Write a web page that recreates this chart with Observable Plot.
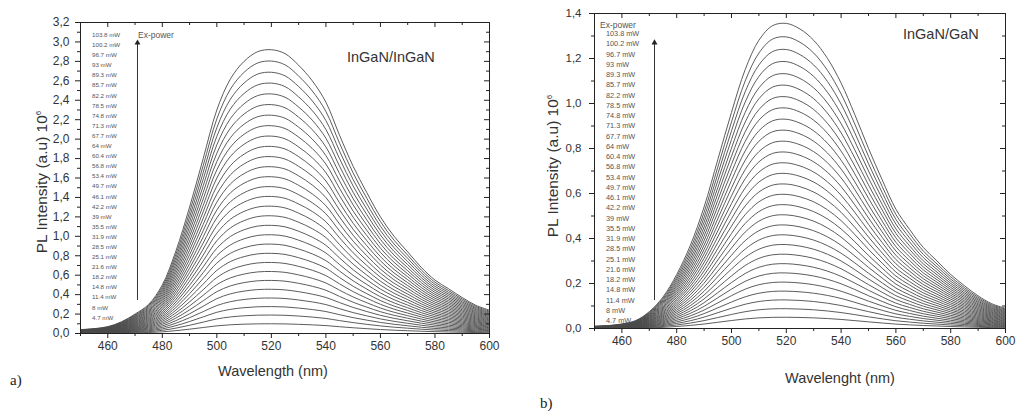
<!DOCTYPE html>
<html><head><meta charset="utf-8">
<script src="https://cdn.jsdelivr.net/npm/d3@7"></script>
<script src="https://cdn.jsdelivr.net/npm/@observablehq/plot@0.6"></script>
<style>
body{margin:0;background:#fff;}
#wrap{position:relative;width:1020px;height:412px;overflow:hidden;font-family:"Liberation Sans",Arial,sans-serif;color:#333;}
.p{position:absolute;top:0;}
.leg{position:absolute;color:#555;white-space:pre;}
.t{position:absolute;white-space:nowrap;}
.yl{position:absolute;white-space:nowrap;transform:translate(-50%,-50%) rotate(-90deg);font-size:15.5px;}
.xl{position:absolute;white-space:nowrap;transform:translate(-50%,-50%);font-size:14.5px;}
.tag{position:absolute;font-family:"Liberation Serif","Times New Roman",serif;font-size:15px;color:#222;}
</style></head><body><div id="wrap"></div>
<script>
// Excitation power labels (top = highest power)
const powerLabels = ["103.8 mW","100.2 mW","96.7 mW","93 mW","89.3 mW","85.7 mW","82.2 mW","78.5 mW","74.8 mW","71.3 mW","67.7 mW","64 mW","60.4 mW","56.8 mW","53.4 mW","49.7 mW","46.1 mW","42.2 mW","39 mW","35.5 mW","31.9 mW","28.5 mW","25.1 mW","21.6 mW","18.2 mW","14.8 mW","11.4 mW","8 mW","4.7 mW"];

// Wavelength samples (nm)
const wavelengths = [450,455,460,465,470,475,480,485,490,495,500,505,510,515,520,525,530,535,540,545,550,555,560,565,570,575,580,585,590,595,600];

// Panel a) InGaN/InGaN : highest-power spectrum (x10^6)
const profileA = [0.04,0.05,0.07,0.12,0.2,0.3,0.5,0.85,1.3,1.8,2.3,2.62,2.8,2.9,2.92,2.88,2.76,2.6,2.38,2.04,1.72,1.45,1.2,1.0,0.84,0.68,0.55,0.46,0.37,0.29,0.24];
// peak intensity of each spectrum (same order as powerLabels)
const peaksA = [2.92,2.803,2.688,2.576,2.465,2.355,2.246,2.138,2.031,1.925,1.82,1.716,1.613,1.511,1.41,1.31,1.211,1.113,1.016,0.92,0.825,0.731,0.638,0.546,0.455,0.365,0.277,0.19,0.10];

// Panel b) InGaN/GaN
const profileB = [0.01,0.013,0.02,0.035,0.075,0.14,0.24,0.37,0.54,0.75,0.96,1.15,1.28,1.345,1.355,1.33,1.28,1.2,1.09,0.95,0.8,0.66,0.53,0.44,0.36,0.3,0.24,0.19,0.145,0.11,0.09];
const peaksB = [1.356,1.296,1.240,1.186,1.132,1.081,1.030,0.980,0.930,0.881,0.832,0.784,0.736,0.689,0.642,0.596,0.550,0.505,0.460,0.416,0.373,0.330,0.288,0.247,0.206,0.166,0.127,0.088,0.05];

// ticks
const xMajor = [460,480,500,520,540,560,580,600];
const xMinor = [450,470,490,510,530,550,570,590];
const yMajorA = [0,0.2,0.4,0.6,0.8,1.0,1.2,1.4,1.6,1.8,2.0,2.2,2.4,2.6,2.8,3.0,3.2];
const yMinorA = [0.1,0.3,0.5,0.7,0.9,1.1,1.3,1.5,1.7,1.9,2.1,2.3,2.5,2.7,2.9,3.1];
const yMajorB = [0,0.2,0.4,0.6,0.8,1.0,1.2,1.4];
const yMinorB = [0.1,0.3,0.5,0.7,0.9,1.1,1.3];

// "Ex-power" arrow annotations (data space)
const arrowA = {x: 470.9, y1: 0.34, y2: 2.99};
const arrowB = {x: 471.9, y1: 0.124, y2: 1.27};

function buildRows(profile, peaks) {
  const pmax = d3.max(profile);
  const rows = [];
  peaks.forEach((pk, i) => {
    wavelengths.forEach((w, j) => rows.push({p: powerLabels[i], w, v: profile[j] * pk / pmax}));
  });
  return rows;
}

const fmt = d => d.toFixed(1).replace(".", ",");

function panel(o) {
  const ph = o.height - o.mt - o.mb;
  const pw = o.width - o.ml - o.mr;
  const tick = "#222";
  return Plot.plot({
    width: o.width, height: o.height,
    marginTop: o.mt, marginRight: o.mr, marginBottom: o.mb, marginLeft: o.ml,
    style: {fontFamily: "Liberation Sans, Arial, sans-serif", color: "#333", background: "transparent", overflow: "visible"},
    x: {domain: [450, 600]},
    y: {domain: [0, o.yMax]},
    marks: [
      Plot.line(o.rows, {x: "w", y: "v", z: "p", stroke: "#4a4a4a", strokeWidth: 0.9, curve: "catmull-rom"}),
      Plot.ruleX([o.arrow], {x: "x", y1: "y1", y2: "y2", stroke: "#333", strokeWidth: 1}),
      Plot.dot([o.arrow], {x: "x", y: "y2", symbol: "triangle", r: 2.2, fill: "#222", stroke: null}),
      // inward ticks on top and right edges
      Plot.ruleX(xMajor, {stroke: tick, insetBottom: ph - 5}),
      Plot.ruleX(xMinor, {stroke: tick, insetBottom: ph - 3}),
      Plot.ruleY(o.yMajor, {stroke: tick, insetLeft: pw - 5}),
      Plot.ruleY(o.yMinor, {stroke: tick, insetLeft: pw - 3}),
      Plot.frame({stroke: "#222", strokeWidth: 1}),
      Plot.axisX({ticks: xMajor, tickSize: 5, tickPadding: 3, tickFormat: d => String(d), label: null, fontSize: 12, stroke: tick}),
      Plot.axisX({ticks: xMinor, tickSize: 3, text: null, label: null, stroke: tick}),
      Plot.axisY({ticks: o.yMajor, tickSize: 5, tickPadding: o.yPad, tickFormat: fmt, label: null, fontSize: o.yFont, stroke: tick}),
      Plot.axisY({ticks: o.yMinor, tickSize: 3, text: null, label: null, stroke: tick})
    ]
  });
}

const wrap = document.getElementById("wrap");

const a = panel({width: 510, height: 390, mt: 22, mr: 21, mb: 57, ml: 80, yMax: 3.2,
  yMajor: yMajorA, yMinor: yMinorA, yPad: 6, yFont: 12, arrow: arrowA, rows: buildRows(profileA, peaksA)});
a.classList.add("p"); a.style.left = "0px";
wrap.appendChild(a);

const b = panel({width: 510, height: 390, mt: 13, mr: 15, mb: 62, ml: 84, yMax: 1.4,
  yMajor: yMajorB, yMinor: yMinorB, yPad: 8, yFont: 11.5, arrow: arrowB, rows: buildRows(profileB, peaksB)});
b.classList.add("p"); b.style.left = "510px";
wrap.appendChild(b);

function addDiv(cls, html, css) {
  const d = document.createElement("div");
  d.className = cls; d.innerHTML = html;
  Object.assign(d.style, css);
  wrap.appendChild(d);
  return d;
}

// legends
addDiv("leg", powerLabels.join("\n"), {left: "92px", top: "30px", fontSize: "6.2px", lineHeight: "10.1px"});
addDiv("leg", powerLabels.join("\n"), {left: "606px", top: "29px", fontSize: "7.3px", lineHeight: "10.25px"});
addDiv("t", "Ex-power", {left: "138px", top: "30px", fontSize: "8.5px", color: "#555"});
addDiv("t", "Ex-power", {left: "600px", top: "20px", fontSize: "8.5px", color: "#555"});

// sample titles
addDiv("t", "InGaN/InGaN", {left: "347px", top: "49px", fontSize: "14.5px"});
addDiv("t", "InGaN/GaN", {left: "903px", top: "26px", fontSize: "14.5px"});

// axis labels
addDiv("yl", "PL Intensity (a.u) 10<sup style='font-size:8px'>6</sup>", {left: "42px", top: "182px"});
addDiv("yl", "PL Intensity (a.u) 10<sup style='font-size:8px'>6</sup>", {left: "553px", top: "166px"});
addDiv("xl", "Wavelength (nm)", {left: "273px", top: "371px"});
addDiv("xl", "Wavelenght (nm)", {left: "840px", top: "378px"});

// panel tags
addDiv("tag", "a)", {left: "10px", top: "372px"});
addDiv("tag", "b)", {left: "540px", top: "395px"});
</script>
</body></html>
